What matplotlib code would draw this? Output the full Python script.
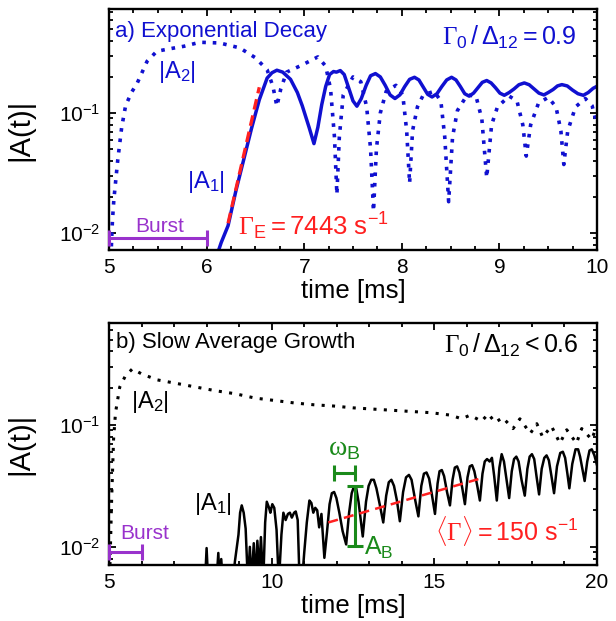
import numpy as np
import matplotlib
matplotlib.use("Agg")
import matplotlib.pyplot as plt
from matplotlib.ticker import LogLocator, NullFormatter, MultipleLocator

plt.rcParams['font.family'] = ['Liberation Sans', 'DejaVu Sans']
plt.rcParams['mathtext.fontset'] = 'custom'
plt.rcParams['mathtext.rm'] = 'Liberation Sans'
plt.rcParams['mathtext.it'] = 'Liberation Sans:italic'
plt.rcParams['mathtext.bf'] = 'Liberation Sans:bold'
plt.rcParams['mathtext.tt'] = 'Liberation Serif'

BLUE = '#1010d0'
RED = '#ff2020'
GREEN = '#1a8a1a'
PURPLE = '#9932cc'

# ---- panel a) exponential decay, log10 |A| ----
a1_top_t = [6.10, 6.15, 6.22, 6.30, 6.38, 6.46, 6.54, 6.62, 6.67, 6.72, 6.78, 6.86, 6.93,
            6.98, 7.05, 7.10, 7.14, 7.18, 7.22, 7.26, 7.30, 7.33, 7.37,
            7.41, 7.455, 7.50, 7.54, 7.585, 7.635, 7.68, 7.73, 7.78, 7.83, 7.88, 7.93,
            7.98, 8.03, 8.08, 8.13, 8.175, 8.22, 8.265, 8.31, 8.36, 8.41, 8.46, 8.51,
            8.555, 8.60, 8.645, 8.69, 8.735, 8.78, 8.825, 8.87, 8.915, 8.96, 9.005, 9.05,
            9.10, 9.15, 9.20, 9.255, 9.305, 9.355, 9.405, 9.456, 9.50, 9.55, 9.595, 9.64,
            9.695, 9.75, 9.805, 9.86, 9.91, 9.96, 10.0]
a1_top_log = [-2.2, -2.08, -1.94, -1.65, -1.39, -1.13, -0.89, -0.71, -0.665, -0.644, -0.66,
              -0.72, -0.83, -0.94, -1.12, -1.256, -1.12, -0.93, -0.78, -0.68, -0.655, -0.66,
              -0.647,
              -0.68, -0.79, -0.9, -0.944, -0.88, -0.77, -0.69, -0.672, -0.70, -0.77, -0.85,
              -0.88, -0.85, -0.78, -0.72, -0.703, -0.725, -0.785, -0.845, -0.867, -0.84,
              -0.78, -0.725, -0.703, -0.725, -0.78, -0.84, -0.86, -0.835, -0.79, -0.745,
              -0.73, -0.75, -0.79, -0.835, -0.853, -0.83, -0.80, -0.765, -0.75, -0.765,
              -0.80, -0.835, -0.85, -0.83, -0.805, -0.775, -0.764, -0.775, -0.81, -0.84,
              -0.853, -0.83, -0.795, -0.778]

a2_top_t = [5.02, 5.035, 5.05, 5.09, 5.13, 5.17, 5.23, 5.29, 5.39, 5.49, 5.61, 5.77, 5.93,
            6.135, 6.34, 6.50, 6.62, 6.68, 6.72, 6.76, 6.82, 6.98, 7.14, 7.22, 7.27, 7.31,
            7.335, 7.36, 7.40, 7.50, 7.58, 7.64, 7.68, 7.71, 7.74, 7.78, 7.84, 7.94, 8.01,
            8.05, 8.08, 8.11, 8.16, 8.22, 8.33, 8.40, 8.44, 8.48, 8.52, 8.57, 8.67, 8.76,
            8.82, 8.87, 8.92, 8.98, 9.10, 9.18, 9.24, 9.275, 9.32, 9.40, 9.50, 9.58, 9.63,
            9.66, 9.70, 9.78, 9.88, 9.95, 10.0]
a2_top_log = [-2.2, -1.9, -1.72, -1.39, -1.12, -0.94, -0.83, -0.75, -0.57, -0.486, -0.467,
              -0.444, -0.411, -0.417, -0.458, -0.54, -0.64, -0.78, -0.944, -0.80, -0.66,
              -0.6, -0.533, -0.61, -0.8, -1.2, -1.68, -1.2, -0.85, -0.70, -0.74, -0.95,
              -1.3, -1.82, -1.3, -1.0, -0.82, -0.77, -0.85, -1.15, -1.586, -1.15, -0.95,
              -0.85, -0.82, -0.9, -1.2, -1.74, -1.2, -0.98, -0.85, -0.86, -1.05, -1.54,
              -1.1, -0.95, -0.86, -0.9, -1.1, -1.36, -1.1, -0.92, -0.87, -0.95, -1.15,
              -1.43, -1.15, -0.95, -0.88, -0.94, -1.1]

fit_top_t = [6.22, 6.54]
fit_top_log = [-1.92, -0.786]

# ---- panel b) slow average growth ----
a1_bot_t = [7.95, 8.0, 8.05, 8.30, 8.36, 8.40, 8.45, 8.5, 8.80, 8.87, 8.93, 8.98, 9.03,
            9.08, 9.14, 9.2, 9.27, 9.33, 9.38, 9.45, 9.5, 9.56, 9.62, 9.67, 9.74, 9.80,
            9.85, 9.92, 9.96, 10.02, 10.08, 10.15, 10.22, 10.3, 10.36, 10.43, 10.50, 10.56,
            10.62, 10.69, 10.74, 10.80, 10.86, 10.93, 11.0, 11.08, 11.16, 11.22, 11.28,
            11.34, 11.40, 11.46, 11.53,
            11.62, 11.70, 11.78, 11.85, 11.92, 11.99, 12.08, 12.18, 12.29, 12.38, 12.46,
            12.53, 12.60, 12.67, 12.80, 12.90, 12.98, 13.06, 13.14, 13.22, 13.32, 13.43,
            13.52, 13.60, 13.68, 13.76, 13.85, 13.94, 14.04, 14.13, 14.22, 14.30, 14.40,
            14.51, 14.60, 14.68, 14.76, 14.84, 14.93, 15.02, 15.10, 15.16, 15.23, 15.30,
            15.39, 15.48, 15.56, 15.63, 15.70, 15.77, 15.86, 15.94, 16.02, 16.09, 16.16,
            16.23, 16.32, 16.40, 16.48, 16.55, 16.62, 16.70, 16.77, 16.84, 16.92, 17.00,
            17.07, 17.14, 17.22, 17.30, 17.38, 17.45, 17.52, 17.59, 17.68, 17.78, 17.86,
            17.93, 18.00, 18.07, 18.14, 18.22, 18.30, 18.38, 18.45, 18.52, 18.60, 18.68,
            18.77, 18.87, 18.95, 19.02, 19.09, 19.15, 19.24, 19.34, 19.42, 19.48, 19.55,
            19.62, 19.70, 19.77, 19.84, 19.92, 20.0]
a1_bot_log = [-2.3, -2.01, -2.3, -2.3, -2.05, -2.3, -2.1, -2.3, -2.3, -2.12, -2.0, -1.9,
              -1.72, -1.66, -1.72, -1.85, -2.3, -2.0, -2.3, -1.97, -2.3, -1.95, -2.2,
              -1.92, -2.3, -1.8, -1.63, -1.68, -1.72, -1.65, -1.68, -1.86, -2.3, -1.9,
              -1.72, -1.78, -1.73, -1.72, -1.76, -1.72, -1.71, -1.78, -2.3, -2.3, -2.05,
              -1.8, -1.62, -1.64, -1.72, -1.68, -1.7, -1.84, -1.73,
              -2.09, -1.88, -1.65, -1.56, -1.55, -1.6, -1.72, -1.87, -1.98, -1.72, -1.56,
              -1.505, -1.52, -1.63, -1.915, -1.63, -1.5, -1.45, -1.45, -1.52, -1.65, -1.80,
              -1.58, -1.47, -1.45, -1.5, -1.62, -1.79, -1.55, -1.43, -1.41, -1.45, -1.6,
              -1.75, -1.5, -1.4, -1.39, -1.44, -1.58, -1.73, -1.48, -1.38, -1.37, -1.42,
              -1.55, -1.66, -1.45, -1.35, -1.34, -1.39, -1.52, -1.65, -1.43, -1.34, -1.33,
              -1.38, -1.5, -1.62, -1.4, -1.3, -1.28, -1.3, -1.27, -1.42, -1.62, -1.35,
              -1.24, -1.3, -1.45, -1.60, -1.38, -1.28, -1.26, -1.3, -1.45, -1.58, -1.36,
              -1.26, -1.24, -1.28, -1.42, -1.57, -1.36, -1.27, -1.25, -1.29, -1.42, -1.56,
              -1.34, -1.23, -1.22, -1.27, -1.4, -1.52, -1.32, -1.2, -1.2, -1.26, -1.36,
              -1.46, -1.3, -1.21, -1.2, -1.25, -1.33]

a2_bot_t = [5.03, 5.08, 5.14, 5.20, 5.33, 5.50, 5.72, 5.99, 6.47, 7.08, 7.68, 8.28, 8.89,
            9.49, 10.1, 10.7, 11.3, 11.9, 12.5, 13.1, 13.7, 14.3, 14.9, 15.5, 15.84, 16.1,
            16.45, 16.66, 16.87, 17.1, 17.42, 17.63, 17.95, 18.15, 18.33, 18.6, 18.86,
            19.07, 19.37, 19.53, 19.84, 20.0]
a2_bot_log = [-2.15, -1.62, -1.12, -0.90, -0.69, -0.60, -0.54, -0.58, -0.63, -0.66, -0.69,
              -0.72, -0.745, -0.78, -0.80, -0.82, -0.835, -0.845, -0.86, -0.87, -0.88,
              -0.89, -0.90, -0.92, -0.95, -0.92, -0.97, -0.91, -0.98, -0.94, -1.03, -0.95,
              -1.07, -0.99, -1.10, -1.01, -1.15, -1.04, -1.15, -1.03, -1.12, -1.0]

fit_bot_t = [11.74, 16.45]
fit_bot_log = [-1.80, -1.437]

# annotation bars (time span / level)
burst_t = [5.0, 6.0]
burst_top_level = 0.009
burst_bot_level = 0.0091
omega_b_t = [11.91, 12.57]
omega_b_level = 10 ** -1.396
amp_b_t = 12.57
amp_b_range = [10 ** -1.997, 10 ** -1.505]


def style_axes(ax, xmaj, xmin_):
    ax.set_yscale('log')
    ax.xaxis.set_major_locator(MultipleLocator(xmaj))
    ax.xaxis.set_minor_locator(MultipleLocator(xmin_))
    ax.yaxis.set_major_locator(LogLocator(base=10, numticks=10))
    ax.yaxis.set_minor_locator(LogLocator(base=10, subs=np.arange(2, 10), numticks=20))
    ax.yaxis.set_minor_formatter(NullFormatter())
    ax.tick_params(which='both', direction='in', top=True, right=True, labelsize=15,
                   width=1.3, pad=6)
    ax.tick_params(which='major', length=5)
    ax.tick_params(which='minor', length=3)
    for s in ax.spines.values():
        s.set_linewidth(1.7)
    ax.set_xlabel('time [ms]', fontsize=18.5, labelpad=1)
    ax.set_ylabel('|A(t)|', fontsize=21)
    ax.yaxis.set_label_coords(-0.152, 0.5)


def burst_bar(ax, level, tx, ty):
    ax.errorbar([(burst_t[0] + burst_t[1]) / 2], [level],
                xerr=[(burst_t[1] - burst_t[0]) / 2], color=PURPLE, lw=2.2,
                capsize=6, capthick=2.2, clip_on=False, zorder=5)
    ax.text(tx, ty, 'Burst', color=PURPLE, fontsize=15, ha='center', va='baseline')


fig = plt.figure(figsize=(6.16, 6.21), dpi=100)
ax1 = fig.add_axes([109 / 616, 1 - 250 / 621, 488 / 616, 241 / 621])
ax2 = fig.add_axes([109 / 616, 1 - 565 / 621, 488 / 616, 242 / 621])

# --- top panel ---
ax1.plot(a2_top_t, 10 ** np.array(a2_top_log), color=BLUE, lw=2.6,
         linestyle=(0, (1, 1.9)))
ax1.plot(a1_top_t, 10 ** np.array(a1_top_log), color=BLUE, lw=2.5,
         solid_joinstyle='round')
ax1.plot(fit_top_t, 10 ** np.array(fit_top_log), color=RED, lw=2.4,
         linestyle=(0, (3.2, 1.8)))
style_axes(ax1, 1, 0.25)
ax1.set_xlim(5, 10)
ax1.set_ylim(0.0072, 0.735)
burst_bar(ax1, burst_top_level, 5.52, 0.0102)

ax1.text(0.012, 0.885, 'a) Exponential Decay', color=BLUE, fontsize=16,
         transform=ax1.transAxes, va='baseline')
ax1.text(0.958, 0.851, r'$\mathtt{\Gamma}_0\,/\,\Delta_{12} = 0.9$', color=BLUE,
         fontsize=18, transform=ax1.transAxes, ha='right', va='baseline')
ax1.text(0.139, 0.739, r'$|\mathrm{A}_2|$', color=BLUE, fontsize=17,
         transform=ax1.transAxes, ha='center', va='center')
ax1.text(0.199, 0.282, r'$|\mathrm{A}_1|$', color=BLUE, fontsize=17,
         transform=ax1.transAxes, ha='center', va='center')
ax1.text(0.264, 0.062, r'$\mathtt{\Gamma}_\mathrm{E} = 7443\ \mathrm{s}^{-1}$', color=RED,
         fontsize=18.5, transform=ax1.transAxes, va='baseline')

# --- bottom panel ---
ax2.plot(a2_bot_t, 10 ** np.array(a2_bot_log), color='black', lw=2.2,
         linestyle=(0, (1, 2.4)))
ax2.plot(a1_bot_t, 10 ** np.array(a1_bot_log), color='black', lw=1.8,
         solid_joinstyle='round')
ax2.plot(fit_bot_t, 10 ** np.array(fit_bot_log), color=RED, lw=1.8,
         linestyle=(0, (4, 2.5)))
style_axes(ax2, 5, 1)
ax2.set_xlim(5, 20)
ax2.set_ylim(0.0071, 0.685)
burst_bar(ax2, burst_bot_level, 6.1, 0.0117)

ax2.errorbar([(omega_b_t[0] + omega_b_t[1]) / 2], [omega_b_level],
             xerr=[(omega_b_t[1] - omega_b_t[0]) / 2], color=GREEN, lw=2.2,
             capsize=6, capthick=2.2, zorder=5)
amp_mid = np.sqrt(amp_b_range[0] * amp_b_range[1])
ax2.errorbar([amp_b_t], [amp_mid],
             yerr=[[amp_mid - amp_b_range[0]], [amp_b_range[1] - amp_mid]],
             color=GREEN, lw=2.2, capsize=5.5, capthick=2.2, zorder=5)
ax2.text(12.22, 10 ** -1.254, r'$\mathtt{\omega}_\mathrm{B}$', color=GREEN, fontsize=20,
         ha='center', va='baseline')
ax2.text(12.85, 10 ** -2.066, r'$\mathrm{A}_\mathrm{B}$', color=GREEN, fontsize=18,
         ha='left', va='baseline')

ax2.text(0.014, 0.895, 'b) Slow Average Growth', color='black', fontsize=16,
         transform=ax2.transAxes, va='baseline')
ax2.text(0.962, 0.875, r'$\mathtt{\Gamma}_0\,/\,\Delta_{12} < 0.6$', color='black',
         fontsize=18, transform=ax2.transAxes, ha='right', va='baseline')
ax2.text(0.084, 0.674, r'$|\mathrm{A}_2|$', color='black', fontsize=17,
         transform=ax2.transAxes, ha='center', va='center')
ax2.text(0.213, 0.252, r'$|\mathrm{A}_1|$', color='black', fontsize=17,
         transform=ax2.transAxes, ha='center', va='center')
ax2.text(0.668, 0.103, r'$\langle\mathtt{\Gamma}\rangle = 150\ \mathrm{s}^{-1}$', color=RED,
         fontsize=18, transform=ax2.transAxes, va='baseline')

fig.savefig('out.png', dpi=100)
